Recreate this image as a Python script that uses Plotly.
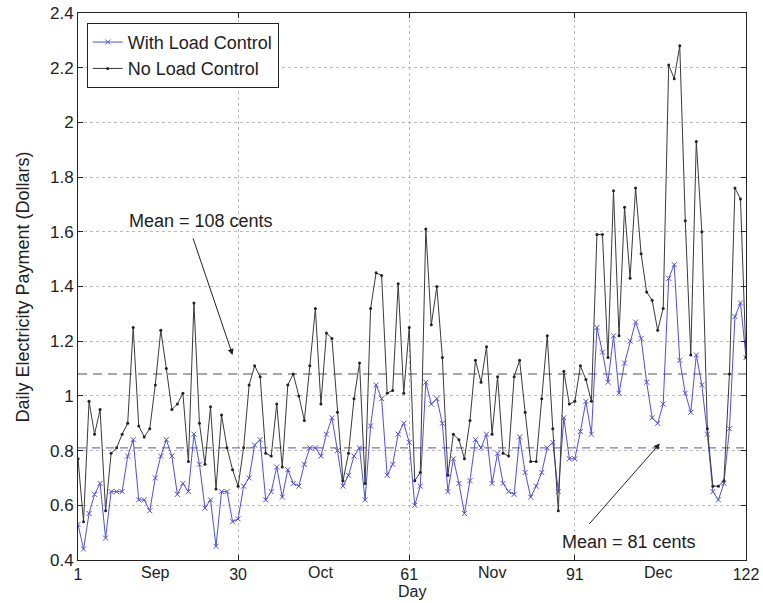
import plotly.graph_objects as go

days = list(range(1, 123))

with_load_control = [
    0.53, 0.44, 0.57, 0.64, 0.68, 0.48, 0.65, 0.65, 0.65, 0.78,
    0.84, 0.62, 0.62, 0.58, 0.70, 0.78, 0.84, 0.78, 0.64, 0.68,
    0.65, 0.86, 0.75, 0.59, 0.62, 0.45, 0.65, 0.65, 0.54, 0.55,
    0.67, 0.70, 0.82, 0.84, 0.62, 0.65, 0.74, 0.63, 0.73, 0.68,
    0.67, 0.75, 0.81, 0.81, 0.78, 0.86, 0.92, 0.80, 0.67, 0.71,
    0.78, 0.81, 0.62, 0.89, 1.04, 0.99, 0.71, 0.75, 0.86, 0.90,
    0.83, 0.60, 0.67, 1.05, 0.97, 0.99, 0.90, 0.65, 0.77, 0.68,
    0.57, 0.69, 0.84, 0.81, 0.86, 0.68, 0.79, 0.68, 0.65, 0.64,
    0.85, 0.72, 0.63, 0.67, 0.72, 0.81, 0.83, 0.65, 0.92, 0.77,
    0.77, 0.87, 0.98, 0.86, 1.25, 1.16, 1.05, 1.22, 1.01, 1.12,
    1.20, 1.27, 1.21, 1.05, 0.92, 0.90, 0.97, 1.43, 1.48, 1.13,
    1.01, 0.94, 1.15, 1.04, 0.86, 0.65, 0.62, 0.68, 0.88, 1.29,
    1.34, 1.14,
]

no_load_control = [
    0.77, 0.54, 0.98, 0.86, 0.95, 0.58, 0.79, 0.81, 0.86, 0.90,
    1.25, 0.89, 0.85, 0.88, 1.04, 1.24, 1.10, 0.95, 0.97, 1.01,
    0.76, 1.34, 0.90, 0.75, 0.96, 0.66, 0.93, 0.81, 0.73, 0.67,
    0.81, 1.04, 1.11, 1.07, 0.79, 0.78, 0.97, 0.74, 1.04, 1.08,
    1.00, 0.91, 1.11, 1.32, 0.97, 1.23, 1.21, 0.94, 0.69, 0.79,
    0.99, 1.12, 0.68, 1.32, 1.45, 1.44, 1.01, 1.02, 1.41, 1.01,
    1.25, 0.69, 0.72, 1.61, 1.26, 1.40, 1.14, 0.71, 0.86, 0.84,
    0.77, 0.91, 1.13, 1.05, 1.18, 0.86, 1.07, 0.79, 0.78, 1.07,
    1.13, 0.94, 0.76, 0.76, 0.99, 1.22, 0.88, 0.58, 1.09, 0.97,
    0.98, 1.11, 1.06, 0.98, 1.59, 1.59, 1.14, 1.75, 1.22, 1.69,
    1.43, 1.76, 1.52, 1.38, 1.35, 1.24, 1.32, 2.21, 2.16, 2.28,
    1.64, 1.15, 1.93, 1.60, 0.88, 0.67, 0.67, 0.69, 1.08, 1.76,
    1.72, 1.14,
]

mean_no_control = 1.08
mean_with_control = 0.81

x_tick_vals = [1, 30, 61, 91, 122]
x_tick_text = ["1", "30", "61", "91", "122"]
month_pos = [15, 45, 76, 106]
month_text = ["Sep", "Oct", "Nov", "Dec"]
y_tick_vals = [0.4, 0.6, 0.8, 1.0, 1.2, 1.4, 1.6, 1.8, 2.0, 2.2, 2.4]
y_tick_text = ["0.4", "0.6", "0.8", "1", "1.2", "1.4", "1.6", "1.8", "2", "2.2", "2.4"]

FONT = "Liberation Sans, Arial, sans-serif"
TXT = "#222222"

fig = go.Figure()

# mean lines
fig.add_trace(go.Scatter(x=[1, 122], y=[mean_no_control] * 2, mode="lines",
                         line=dict(color="#8a8a8a", width=1.3, dash="9px,6px"),
                         showlegend=False, hoverinfo="skip"))
fig.add_trace(go.Scatter(x=[1, 122], y=[mean_with_control] * 2, mode="lines",
                         line=dict(color="#7a7aa8", width=1.2, dash="8px,6px"),
                         showlegend=False, hoverinfo="skip"))

fig.add_trace(go.Scatter(
    x=days, y=with_load_control, mode="lines+markers", name="With Load Control",
    line=dict(color="#5050d4", width=1),
    marker=dict(symbol="x-thin", size=5, line=dict(color="#5050d4", width=1)),
))
fig.add_trace(go.Scatter(
    x=days, y=no_load_control, mode="lines+markers", name="No Load Control",
    line=dict(color="#3a3a3a", width=1),
    marker=dict(symbol="circle", size=3, color="#222222"),
))

annotations = [
    dict(x=29, y=1.15, xref="x", yref="y", ax=-40, ay=-118, axref="pixel", ayref="pixel",
         text="", showarrow=True, arrowhead=2, arrowsize=1.2, arrowwidth=1, arrowcolor=TXT),
    dict(x=23.3, y=1.64, xref="x", yref="y", text="Mean = 108 cents", showarrow=False,
         font=dict(size=18, color=TXT, family=FONT)),
    dict(x=106.4, y=0.826, xref="x", yref="y", ax=-72, ay=82, axref="pixel", ayref="pixel",
         text="", showarrow=True, arrowhead=2, arrowsize=1.2, arrowwidth=1, arrowcolor=TXT),
    dict(x=100.8, y=0.465, xref="x", yref="y", text="Mean = 81 cents", showarrow=False,
         font=dict(size=18, color=TXT, family=FONT)),
    # axis titles
    dict(x=0.5, y=0, xref="paper", yref="paper", yanchor="top", yshift=-21,
         text="Day", showarrow=False, font=dict(size=16, color=TXT, family=FONT)),
    dict(x=0, y=0.5, xref="paper", yref="paper", xanchor="right", xshift=-44, textangle=-90,
         text="Daily Electricity Payment (Dollars)", showarrow=False,
         font=dict(size=18, color=TXT, family=FONT)),
]
for p, t in zip(month_pos, month_text):
    annotations.append(dict(x=p, y=0, xref="x", yref="paper", yanchor="top", yshift=-2,
                            text=t, showarrow=False, font=dict(size=16, color=TXT, family=FONT)))

fig.update_layout(
    width=763, height=603,
    margin=dict(l=78, r=17, t=13, b=43, autoexpand=False),
    paper_bgcolor="white", plot_bgcolor="white",
    font=dict(family=FONT, size=16, color=TXT),
    showlegend=True,
    legend=dict(x=0.013, y=0.982, xanchor="left", yanchor="top",
                bordercolor=TXT, borderwidth=1, bgcolor="white",
                font=dict(size=18, family=FONT, color=TXT), tracegroupgap=0, itemwidth=30),
    annotations=annotations,
    xaxis=dict(range=[1, 122], tickmode="array", tickvals=x_tick_vals, ticktext=x_tick_text,
               showgrid=True, gridcolor="#bbbbbb", griddash="dot", gridwidth=1,
               showline=True, linecolor=TXT, linewidth=1, mirror="ticks",
               ticks="inside", ticklen=5, tickcolor=TXT, zeroline=False, automargin=False,
               tickfont=dict(size=16)),
    yaxis=dict(range=[0.4, 2.4], tickmode="array", tickvals=y_tick_vals, ticktext=y_tick_text,
               showgrid=True, gridcolor="#bbbbbb", griddash="dot", gridwidth=1,
               showline=True, linecolor=TXT, linewidth=1, mirror="ticks",
               ticks="inside", ticklen=5, tickcolor=TXT, zeroline=False, automargin=False,
               tickfont=dict(size=17)),
)

fig.write_html("out.html")
